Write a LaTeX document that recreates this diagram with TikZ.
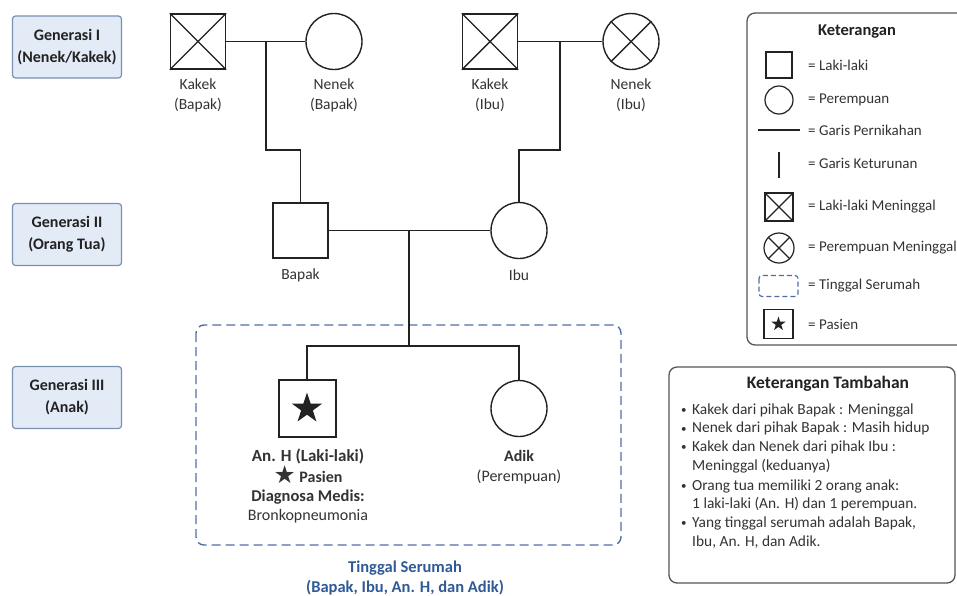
\documentclass[tikz,border=0pt]{standalone}
\usepackage{fontspec}
\setmainfont{Carlito}
\newfontfamily\symfont{DejaVu Sans}
\usetikzlibrary{shapes.geometric}
\definecolor{ink}{HTML}{222222}
\definecolor{txt}{HTML}{333333}
\definecolor{genfill}{HTML}{E3EBF6}
\definecolor{genline}{HTML}{7A90B2}
\definecolor{house}{HTML}{4F6FA3}
\definecolor{housetxt}{HTML}{2F5A96}
\definecolor{boxline}{HTML}{555555}
\newcommand{\smallbul}{\makebox[12pt][l]{\hspace{1pt}\raisebox{0.5pt}{\fontsize{11}{11}\selectfont\textbullet}}}
\begin{document}
\begin{tikzpicture}[x=1pt,y=-1pt,
  male/.style={draw=ink, line width=1.4pt, minimum size=55pt, inner sep=0pt},
  female/.style={circle, draw=ink, line width=1.4pt, minimum size=56pt, inner sep=0pt},
  rel/.style={draw=ink, line width=1.4pt},
  lbl/.style={align=center, text=txt, font=\fontsize{15.5}{20}\selectfont, inner sep=0pt},
  genbox/.style={draw=genline, fill=genfill, line width=1.2pt, rounded corners=3pt,
    minimum width=109pt, minimum height=62pt, align=center, text=ink,
    font=\bfseries\fontsize{16}{22}\selectfont},
  legsym/.style={draw=ink, line width=1.2pt, inner sep=0pt},
  legtxt/.style={anchor=west, text=txt, font=\fontsize{15}{18}\selectfont, inner sep=0pt},
  bul/.style={anchor=west, text=txt, font=\fontsize{15.4}{18}\selectfont, inner sep=0pt},
  housebox/.style={draw=house, line width=1.4pt, dash pattern=on 9pt off 5pt, rounded corners=8pt},
  infobox/.style={draw=boxline, line width=1.3pt, rounded corners=8pt}
]
\clip (0,0) rectangle (957,595);
\fill[white] (0,0) rectangle (957,595);

% generation boxes
\node[genbox] (g1) at (67,47) {Generasi I\\(Nenek/Kakek)};
\node[genbox] (g2) at (67,234.5) {Generasi II\\(Orang Tua)};
\node[genbox] (g3) at (67,397.5) {Generasi III\\(Anak)};

% generation I
\node[male] (kb) at (198,41.5) {};
\draw[rel] (kb.north west) -- (kb.south east) (kb.north east) -- (kb.south west);
\node[female] (nb) at (334,41.5) {};
\node[male] (ki) at (490,41.5) {};
\draw[rel] (ki.north west) -- (ki.south east) (ki.north east) -- (ki.south west);
\node[female] (ni) at (631,41.5) {};
\draw[rel] (ni.north west) -- (ni.south east) (ni.north east) -- (ni.south west);

\node[lbl] (kbl) at (198,95) {Kakek\\(Bapak)};
\node[lbl] (nbl) at (334,95) {Nenek\\(Bapak)};
\node[lbl] (kil) at (490,95) {Kakek\\(Ibu)};
\node[lbl] (nil) at (631,95) {Nenek\\(Ibu)};

% generation II
\node[male] (bapak) at (300.5,230.5) {};
\node[female] (ibu) at (519,230.5) {};
\node[lbl] (bapakl) at (300.5,275) {Bapak};
\node[lbl] (ibul) at (519,275) {Ibu};

% connectors I -> II
\draw[rel] (kb.east) -- (nb.west);
\coordinate (m1) at (266,41.5);
\coordinate (t1) at (266,150);
\draw[rel] (m1) -- (t1) -| (bapak.north);
\draw[rel] (ki.east) -- (ni.west);
\coordinate (m2) at (560,41.5);
\coordinate (t2) at (560,150);
\draw[rel] (m2) -- (t2) -| (ibu.north);

% generation III
\draw[housebox] (196,325) rectangle (621,545);
\node[male, minimum size=57pt, line width=2pt] (anh) at (307,408.5) {};
\node[star, star points=5, star point ratio=2.6, fill=ink, minimum size=32pt, inner sep=0pt] (anhstar) at (anh.center) {};
\node[female] (adik) at (519,408.5) {};

\node[lbl, font=\fontsize{16}{19}\selectfont] (anhl) at (308,486)
  {{\fontsize{17}{19}\selectfont\textbf{An. H (Laki-laki)}}\\\textbf{\raisebox{-0.5pt}{\scalebox{1.55}{\symfont ★}} Pasien}\\{\fontsize{16.5}{19}\selectfont\textbf{Diagnosa Medis:}}\\Bronkopneumonia};
\node[lbl, font=\fontsize{16}{20}\selectfont] (adikl) at (519,467) {\textbf{Adik}\\(Perempuan)};

\draw[rel] (bapak.east) -- (ibu.west);
\coordinate (m3) at (409,230.5);
\coordinate (sib) at (409,346);
\draw[rel] (m3) -- (sib);
\draw[rel] (anh.north) |- (sib) -| (adik.north);

\node[align=center, text=housetxt, font=\bfseries\fontsize{16.5}{20}\selectfont, inner sep=0pt] (housel) at (405,578)
  {Tinggal Serumah\\(Bapak, Ibu, An. H, dan Adik)};

% legend
\draw[infobox] (747,13) rectangle (975,345);
\node[text=ink, font=\bfseries\fontsize{16.5}{18}\selectfont] (legt) at (857,32) {Keterangan};
\node[legsym, minimum size=26pt] (ls1) at (779,65) {};
\node[legtxt] (lt1) at (808,65) {= Laki-laki};
\node[legsym, circle, minimum size=28pt] (ls2) at (779,100) {};
\node[legtxt] (lt2) at (808,100) {= Perempuan};
\coordinate (ls3a) at (758,130);
\coordinate (ls3b) at (800,130);
\draw[draw=ink, line width=1.2pt] (ls3a) -- (ls3b);
\node[legtxt] (lt3) at (808,130) {= Garis Pernikahan};
\coordinate (ls4a) at (779,152);
\coordinate (ls4b) at (779,178);
\draw[draw=ink, line width=1.2pt] (ls4a) -- (ls4b);
\node[legtxt] (lt4) at (808,163) {= Garis Keturunan};
\node[legsym, minimum size=28pt] (ls5) at (779,207) {};
\draw[draw=ink, line width=1.2pt] (ls5.north west) -- (ls5.south east) (ls5.north east) -- (ls5.south west);
\node[legtxt] (lt5) at (808,207) {= Laki-laki Meninggal};
\node[legsym, circle, minimum size=30pt] (ls6) at (779,248) {};
\draw[draw=ink, line width=1.2pt] (ls6.north west) -- (ls6.south east) (ls6.north east) -- (ls6.south west);
\node[legtxt] (lt6) at (808,248) {= Perempuan Meninggal};
\draw[draw=house, line width=1.2pt, dash pattern=on 5pt off 3pt, rounded corners=3pt] (759,275.5) rectangle (798,296.5);
\node[legtxt] (lt7) at (808,286) {= Tinggal Serumah};
\node[legsym, minimum size=29pt] (ls8) at (778.5,324) {};
\node[star, star points=5, star point ratio=2.6, fill=ink, minimum size=15pt, inner sep=0pt] (ls8s) at (ls8.center) {};
\node[legtxt] (lt8) at (808,324) {= Pasien};

% additional notes
\draw[infobox] (669,367) rectangle (955,583);
\node[text=ink, font=\bfseries\fontsize{17.5}{18}\selectfont] (ktt) at (828,384) {Keterangan Tambahan};
\node[bul] (k1) at (680,410) {\smallbul Kakek dari pihak Bapak : Meninggal};
\node[bul] (k2) at (680,428.5) {\smallbul Nenek dari pihak Bapak : Masih hidup};
\node[bul] (k3) at (680,447) {\smallbul Kakek dan Nenek dari pihak Ibu :};
\node[bul] (k4) at (680,466) {\hspace*{12pt}Meninggal (keduanya)};
\node[bul] (k5) at (680,486) {\smallbul Orang tua memiliki 2 orang anak:};
\node[bul] (k6) at (680,504) {\hspace*{12pt}1 laki-laki (An. H) dan 1 perempuan.};
\node[bul] (k7) at (680,523) {\smallbul Yang tinggal serumah adalah Bapak,};
\node[bul] (k8) at (680,542) {\hspace*{12pt}Ibu, An. H, dan Adik.};
\end{tikzpicture}
\end{document}
